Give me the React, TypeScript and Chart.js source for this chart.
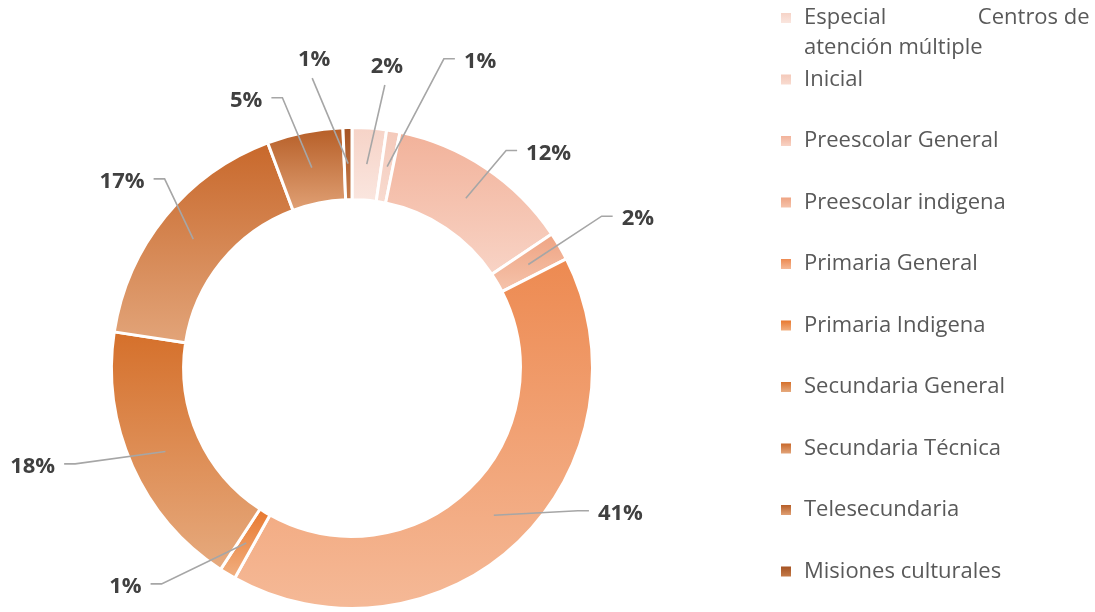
import { useEffect, useRef } from 'react';
import { Chart, registerables } from 'chart.js';

Chart.register(...registerables);

// ---- data ----
const categories = [
  'Especial                Centros de atención múltiple',
  'Inicial',
  'Preescolar General',
  'Preescolar indigena',
  'Primaria General',
  'Primaria Indigena',
  'Secundaria General',
  'Secundaria Técnica',
  'Telesecundaria',
  'Misiones culturales',
];
const values = [2.3, 0.9, 12.4, 1.9, 40.6, 1.1, 18.2, 16.9, 5.1, 0.6];

// ---- styles ----
const topColors = ['#f6d3c7', '#f4c9ba', '#f2b29a', '#efa483', '#ed8a51', '#e8782f', '#d5702b', '#c8682b', '#b65e27', '#a55323'];
const bottomColors = ['#fae6df', '#f8dbd0', '#f8d3c5', '#f5c3ab', '#f5b997', '#f1af80', '#e6aa7e', '#e2a479', '#e0a074', '#c47a48'];
// label placement: angle (deg, clockwise from top) and radius as a multiple of outer radius
const labelAngles = [6.6, 22.7, 42.5, 62.5, 118.5, 226, 252.8, 309, 338.4, 353];
const labelRadii = [1.26, 1.38, 1.21, 1.34, 1.27, 1.31, 1.39, 1.23, 1.195, 1.29];

const FONT = '"Open Sans", "Noto Sans", sans-serif';

function segmentGradient(ctx: CanvasRenderingContext2D, el: any, i: number) {
  const { y, startAngle, endAngle, innerRadius, outerRadius } = el.getProps(
    ['y', 'startAngle', 'endAngle', 'innerRadius', 'outerRadius'],
    true
  );
  let minY = Infinity;
  let maxY = -Infinity;
  const steps = 60;
  for (let s = 0; s <= steps; s++) {
    const a = startAngle + ((endAngle - startAngle) * s) / steps;
    for (const r of [innerRadius, outerRadius]) {
      const py = y + r * Math.sin(a);
      if (py < minY) minY = py;
      if (py > maxY) maxY = py;
    }
  }
  const g = ctx.createLinearGradient(0, minY, 0, maxY);
  g.addColorStop(0, topColors[i]);
  g.addColorStop(1, bottomColors[i]);
  return g;
}

const gradientPlugin = {
  id: 'segGradient',
  beforeDatasetsDraw(chart: any) {
    const meta = chart.getDatasetMeta(0);
    meta.data.forEach((el: any, i: number) => {
      const g = segmentGradient(chart.ctx, el, i);
      try {
        el.options.backgroundColor = g;
      } catch (e) {
        el.options = { ...el.options, backgroundColor: g };
      }
    });
  },
};

const labelPlugin = {
  id: 'pctLabels',
  afterDatasetsDraw(chart: any) {
    const ctx: CanvasRenderingContext2D = chart.ctx;
    const meta = chart.getDatasetMeta(0);
    const data = chart.data.datasets[0].data as number[];
    const total = data.reduce((a, b) => a + b, 0);
    ctx.save();
    ctx.font = `700 22px ${FONT}`;
    ctx.textAlign = 'center';
    ctx.textBaseline = 'middle';
    meta.data.forEach((el: any, i: number) => {
      const { x, y, startAngle, endAngle, innerRadius, outerRadius } = el.getProps(
        ['x', 'y', 'startAngle', 'endAngle', 'innerRadius', 'outerRadius'],
        true
      );
      const mid = (startAngle + endAngle) / 2;
      const rMid = (innerRadius + outerRadius) / 2;
      const ax = x + rMid * Math.cos(mid);
      const ay = y + rMid * Math.sin(mid);
      const la = (labelAngles[i] * Math.PI) / 180 - Math.PI / 2;
      const lx = x + labelRadii[i] * outerRadius * Math.cos(la);
      const ly = y + labelRadii[i] * outerRadius * Math.sin(la);
      const text = Math.round((data[i] / total) * 100) + '%';
      const w = ctx.measureText(text).width;

      ctx.strokeStyle = '#a6a6a6';
      ctx.lineWidth = 1.6;
      ctx.beginPath();
      if (Math.abs(lx - x) < 0.2 * outerRadius) {
        ctx.moveTo(ax, ay);
        ctx.lineTo(lx - 2, ly + 18);
      } else if (lx > x) {
        const sx = lx - w / 2 - 9;
        const sy = ly - 3;
        ctx.moveTo(ax, ay);
        ctx.lineTo(sx - 11, sy);
        ctx.lineTo(sx, sy);
      } else {
        const sx = lx + w / 2 + 9;
        const sy = ly - 3;
        ctx.moveTo(ax, ay);
        ctx.lineTo(sx + 11, sy);
        ctx.lineTo(sx, sy);
      }
      ctx.stroke();

      ctx.fillStyle = '#404040';
      ctx.fillText(text, lx, ly);
    });
    ctx.restore();
  },
};

function wrapText(ctx: CanvasRenderingContext2D, text: string, maxW: number): string[] {
  const tokens = text.split(/(\s+)/).filter((t) => t.length > 0);
  const lines: string[] = [];
  let cur = '';
  for (const t of tokens) {
    if (/^\s+$/.test(t)) {
      cur += t;
      continue;
    }
    const trial = cur + t;
    if (cur.trim().length > 0 && ctx.measureText(trial).width > maxW) {
      lines.push(cur.replace(/\s+$/, ''));
      cur = t;
    } else {
      cur = trial;
    }
  }
  if (cur.length) lines.push(cur);
  return lines;
}

const legendPlugin = {
  id: 'sideLegend',
  afterDraw(chart: any) {
    const ctx: CanvasRenderingContext2D = chart.ctx;
    const labels = chart.data.labels as string[];
    ctx.save();
    ctx.font = `400 22px ${FONT}`;
    ctx.textAlign = 'left';
    ctx.textBaseline = 'middle';
    const boxX = 781;
    const textX = 804;
    const box = 10;
    labels.forEach((lab, i) => {
      const yc = 18 + 61.5 * i;
      const g = ctx.createLinearGradient(0, yc - box / 2, 0, yc + box / 2);
      g.addColorStop(0, topColors[i]);
      g.addColorStop(1, bottomColors[i]);
      ctx.fillStyle = g;
      ctx.fillRect(boxX, yc - box / 2, box, box);
      ctx.fillStyle = '#595959';
      const lines = wrapText(ctx, lab, 1094 - textX);
      lines.forEach((ln, k) => ctx.fillText(ln, textX, yc + k * 30));
    });
    ctx.restore();
  },
};

export default function App() {
  const canvasRef = useRef<HTMLCanvasElement | null>(null);

  useEffect(() => {
    if (!canvasRef.current) return;
    const chart = new Chart(canvasRef.current, {
      type: 'doughnut',
      data: {
        labels: categories,
        datasets: [
          {
            data: values,
            backgroundColor: topColors,
            borderColor: '#ffffff',
            borderWidth: 3,
            hoverOffset: 0,
          },
        ],
      },
      options: {
        animation: false,
        responsive: false,
        maintainAspectRatio: false,
        cutout: '70%',
        layout: { padding: { left: 110, top: 126, right: 501, bottom: 2 } },
        plugins: {
          legend: { display: false },
          tooltip: { enabled: false },
        },
        events: [],
      },
      plugins: [gradientPlugin, labelPlugin, legendPlugin],
    });
    return () => chart.destroy();
  }, []);

  return (
    <div style={{ position: 'fixed', left: 0, top: 0, width: 1095, height: 612, background: '#ffffff' }}>
      <canvas ref={canvasRef} width={1095} height={612} style={{ display: 'block' }} />
    </div>
  );
}
